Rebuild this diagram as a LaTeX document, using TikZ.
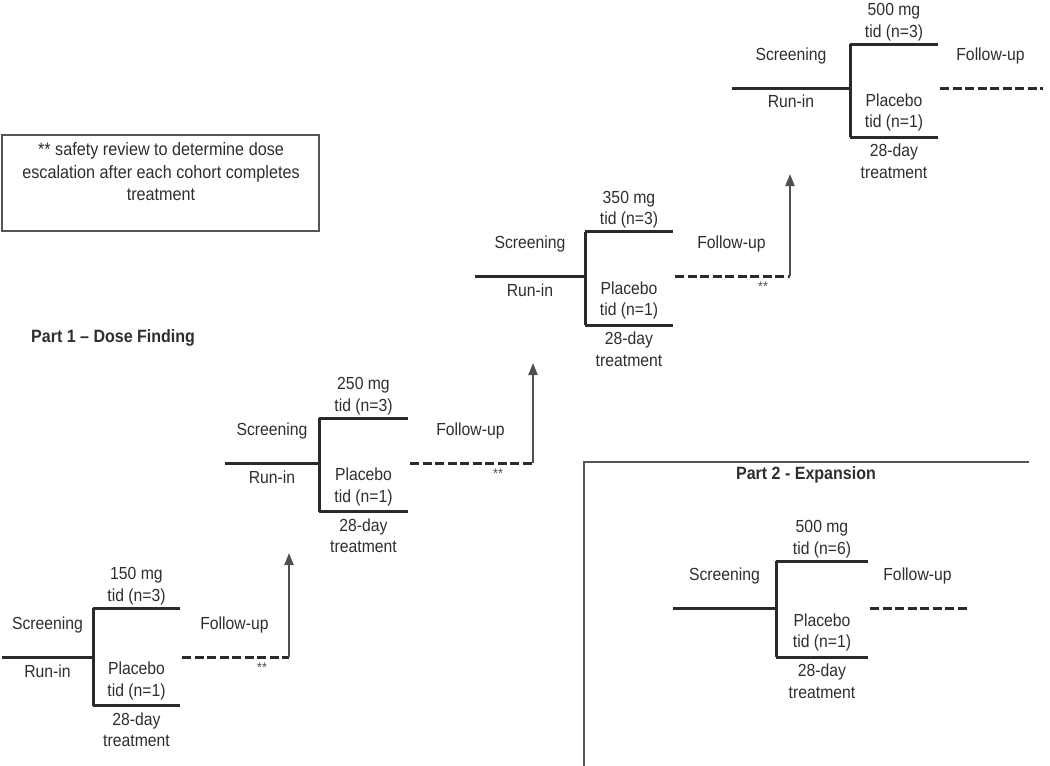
\documentclass[tikz,border=0pt]{standalone}
\usepackage{fontspec}
\setmainfont{Liberation Sans}[FakeStretch=0.9]
\usetikzlibrary{arrows.meta}
\definecolor{ln}{HTML}{2A2A2A}
\definecolor{txt}{HTML}{2E2E2E}
\definecolor{frm}{HTML}{555555}
\definecolor{arr}{HTML}{505050}
\tikzset{
  branch/.style={draw=ln, line width=3pt, line cap=butt},
  fu/.style={draw=ln, line width=3pt, dash pattern=on 9pt off 3.5pt},
  esc/.style={draw=arr, line width=2.2pt, -{Triangle[length=12pt,width=9pt]}},
  frame/.style={draw=frm, line width=1.6pt},
  lbl/.style={text=txt, align=center, inner sep=0pt, font=\fontsize{17.5}{21.5}\selectfont},
  hdr/.style={text=txt, inner sep=0pt, font=\fontsize{17.8}{21.5}\selectfont\bfseries},
  star/.style={text=arr, inner sep=0pt, font=\fontsize{14}{15}\selectfont},
}
% #1 prefix, #2 start x, #3 split x, #4 branch end x, #5 dash end x,
% #6 upper y, #7 run-in y, #8 lower y, #9 dose label
\newcommand\cohort[9]{%
  \coordinate (#1s) at (#2,#7);
  \coordinate (#1v) at (#3,#7);
  \coordinate (#1vu) at (#3,#6);
  \coordinate (#1vl) at (#3,#8);
  \coordinate (#1eu) at (#4,#6);
  \coordinate (#1el) at (#4,#8);
  \coordinate (#1ds) at (#4+2,#7);
  \coordinate (#1de) at (#5,#7);
  \draw[branch] (#1s) -- (#1v);
  \draw[branch] (#1vu) -- (#1vl);
  \draw[branch] (#1vu) -- (#1eu);
  \draw[branch] (#1vl) -- (#1el);
  \draw[fu] (#1ds) -- (#1de);
  \node[lbl] (#1dose) at ({(#3+#4)/2},#6-22) {#9};
  \node[lbl] (#1scr) at ({(#2+#3)/2},#7-32) {Screening};
  \node[lbl] (#1pla) at ({(#3+#4)/2},#8-24.5) {Placebo\\tid (n=1)};
  \node[lbl] (#1trt) at ({(#3+#4)/2},#8+24) {28-day\\treatment};
  \node[lbl] (#1fu) at ({(#4+#5)/2},#7-32) {Follow-up};
}
\begin{document}
\begin{tikzpicture}[x=1pt,y=-1pt]
\useasboundingbox (0,0) rectangle (1050,766);

% legend
\node[frame, draw, minimum width=317pt, minimum height=96pt, inner sep=0pt] (legendbox) at (160.5,183) {};
\node[lbl, font=\fontsize{18}{22.5}\selectfont] (legendtxt) at (161,172)
  {** safety review to determine dose\\escalation after each cohort completes\\treatment};

% headings
\node[hdr, anchor=west] (part1) at (31,338) {Part 1 – Dose Finding};
\node[hdr] (part2) at (806,475) {Part 2 - Expansion};

% part 2 frame
\coordinate (p2a) at (584,766);
\coordinate (p2b) at (584,462);
\coordinate (p2c) at (1029,462);
\draw[frame] (p2a) -- (p2b) -- (p2c);

% cohorts
\cohort{c1}{2}{93}{180}{289}{608}{657}{705.5}{150 mg\\tid (n=3)}
\node[lbl] (c1run) at (47.5,671) {Run-in};
\cohort{c2}{225}{319}{408}{533}{418}{463}{511.5}{250 mg\\tid (n=3)}
\node[lbl] (c2run) at (272,477) {Run-in};
\cohort{c3}{475}{585}{673}{790}{231.5}{276}{325}{350 mg\\tid (n=3)}
\node[lbl] (c3run) at (530,290) {Run-in};
\cohort{c4}{732}{850}{938}{1043}{44}{88}{137}{500 mg\\tid (n=3)}
\node[lbl] (c4run) at (791,101) {Run-in};
\cohort{c5}{673}{776}{868}{967}{561}{608}{657}{500 mg\\tid (n=6)}

% escalation arrows
\coordinate (c1tip) at (289,553);
\coordinate (c2tip) at (533,363);
\coordinate (c3tip) at (790,174);
\draw[esc] (c1de) -- (c1tip);
\draw[esc] (c2de) -- (c2tip);
\draw[esc] (c3de) -- (c3tip);
\node[star] (c1star) at (262,668) {**};
\node[star] (c2star) at (498,474) {**};
\node[star] (c3star) at (763,287) {**};
\end{tikzpicture}
\end{document}
